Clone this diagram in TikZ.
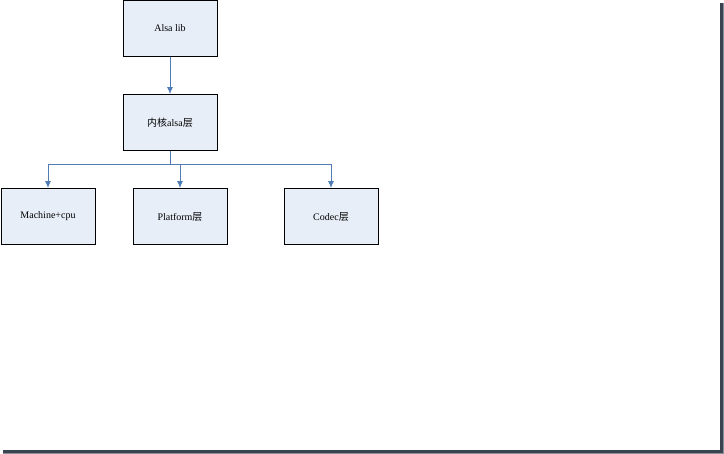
\documentclass[tikz,border=0pt]{standalone}
\usepackage{fontspec}
\setmainfont{Liberation Serif}
\newfontfamily\cjk{Noto Sans CJK SC}
\usetikzlibrary{arrows.meta,positioning}
\definecolor{boxfill}{RGB}{232,238,248}
\definecolor{linkblue}{RGB}{79,124,180}
\definecolor{edgeshade}{RGB}{58,68,80}
\begin{document}
\begin{tikzpicture}[
  x=1pt,y=-1pt,
  layerbox/.style={rectangle,draw=black,line width=0.9pt,fill=boxfill,minimum width=94pt,minimum height=56pt,inner sep=0pt,font=\fontsize{10}{12}\selectfont},
  link/.style={-{Latex[length=7pt,width=6pt]},draw=linkblue,line width=0.9pt},
]
\useasboundingbox (0,0) rectangle (724,454);

% page shadow
\fill[edgeshade] (720,3) rectangle (724,454);
\fill[edgeshade] (3,450) rectangle (724,454);
\fill[edgeshade!60] (723,3) rectangle (724,454);
\fill[edgeshade!60] (3,453) rectangle (724,454);

% layers
\node[layerbox] (alsalib) at (170,28.5) {Alsa lib};
\node[layerbox] (kernel) at (170,122.5) {{\cjk 内核}alsa{\cjk 层}};
\node[layerbox] (machine) at (48,216.5) {Machine+cpu};
\node[layerbox] (platform) at (180,216.5) {Platform{\cjk 层}};
\node[layerbox] (codec) at (331,216.5) {Codec{\cjk 层}};

% bus point
\coordinate (bus) at (170,164);

% connections
\draw[link] (alsalib) -- (kernel);
\draw[linkblue,line width=0.9pt] (kernel.south) -- (bus);
\draw[link] (bus) -| (machine.north);
\draw[link] (bus) -| (platform.north);
\draw[link] (bus) -| (codec.north);

\end{tikzpicture}
\end{document}
